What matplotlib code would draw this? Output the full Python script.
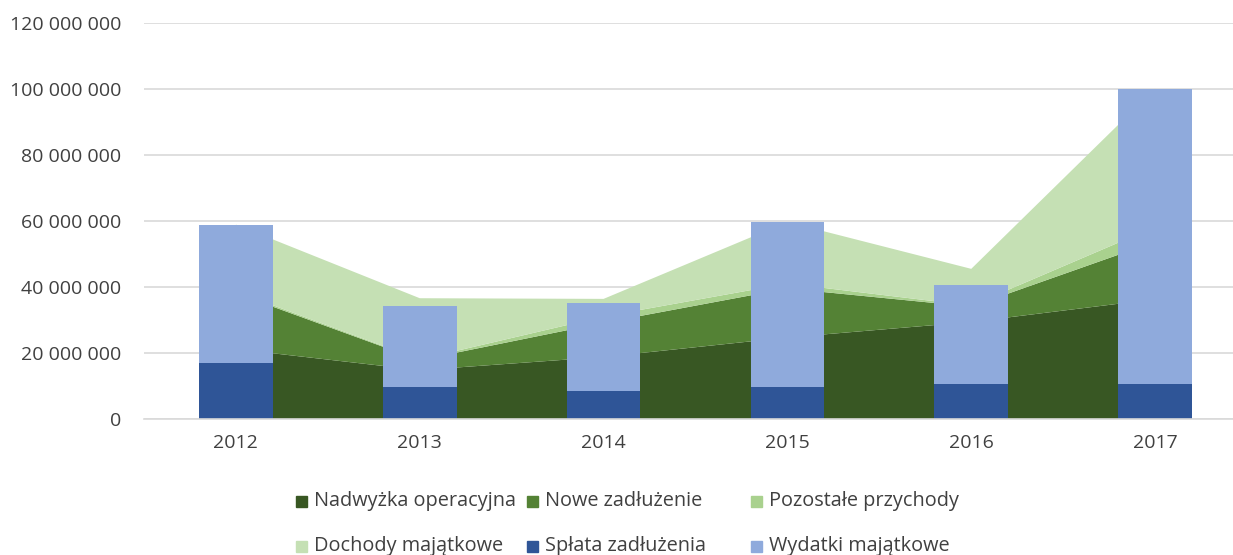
import matplotlib
matplotlib.use("Agg")
import matplotlib.pyplot as plt
from matplotlib.patches import Rectangle
import numpy as np

years = ["2012", "2013", "2014", "2015", "2016", "2017"]
area_names = ["Nadwyżka operacyjna", "Nowe zadłużenie", "Pozostałe przychody", "Dochody majątkowe"]
nadwyzka = [21.2e6, 14.8e6, 18.8e6, 24.7e6, 29.4e6, 36.3e6]
nowe_zadluzenie = [16.9e6, 3.05e6, 10.35e6, 14.85e6, 4.65e6, 17.4e6]
pozostale = [0.5e6, 0.2e6, 1.9e6, 1.5e6, 0.3e6, 4.5e6]
dochody_majatkowe = [20.3e6, 18.55e6, 5.35e6, 18.65e6, 11.15e6, 41.9e6]
bar_names = ["Spłata zadłużenia", "Wydatki majątkowe"]
splata = [17.0e6, 9.8e6, 8.5e6, 9.6e6, 10.7e6, 10.7e6]
wydatki = [41.8e6, 24.4e6, 26.6e6, 50.1e6, 30.0e6, 89.3e6]
yticks = [0, 20e6, 40e6, 60e6, 80e6, 100e6, 120e6]

area_colors = ["#385723", "#548235", "#A9D18E", "#C5E0B4"]
bar_colors = ["#2F5597", "#8FAADC"]
txt = "#404040"
font = "Open Sans"

W, H = 1233, 555
fig = plt.figure(figsize=(W / 100, H / 100), dpi=100)
ax = fig.add_axes([144 / W, 136 / H, 1103 / W, 396 / H])

x = np.arange(len(years))
ax.stackplot(x, nadwyzka, nowe_zadluzenie, pozostale, dochody_majatkowe,
             colors=area_colors, zorder=2, linewidth=0)
ax.bar(x, splata, width=0.4, color=bar_colors[0], zorder=3)
ax.bar(x, wydatki, bottom=splata, width=0.4, color=bar_colors[1], zorder=3)

ax.set_xlim(-0.5, 5.5)
ax.set_ylim(0, 120e6)
ax.set_yticks(yticks)
ax.set_yticklabels([f"{int(v):,}".replace(",", " ") for v in yticks],
                   fontfamily=font, fontsize=14, color=txt)
ax.set_xticks(x)
ax.set_xticklabels(years, fontfamily=font, fontsize=14, color=txt)
ax.tick_params(axis="both", length=0)
ax.tick_params(axis="y", pad=16.5)
ax.tick_params(axis="x", pad=11)
ax.grid(axis="y", color="#D9D9D9", linewidth=1.2, zorder=0)
ax.set_axisbelow(True)
for s in ["top", "right", "left"]:
    ax.spines[s].set_visible(False)
ax.spines["bottom"].set_color("#D9D9D9")
ax.spines["bottom"].set_linewidth(1.2)
ax.spines["bottom"].set_zorder(4)

# legend (manual layout, two rows of three)
names = area_names + bar_names
colors = area_colors + bar_colors
col_x = [296, 527, 751]
row_y = [501, 546]
for i, (n, c) in enumerate(zip(names, colors)):
    r, k = divmod(i, 3)
    px, py = col_x[k], row_y[r]
    fig.patches.append(Rectangle((px / W, (H - py - 5.5) / H), 11 / W, 11 / H,
                                 transform=fig.transFigure, color=c))
    fig.text((px + 18) / W, (H - py) / H, n, fontfamily=font, fontsize=14.3,
             color=txt, va="center", ha="left")

fig.savefig("out.png", dpi=100)
